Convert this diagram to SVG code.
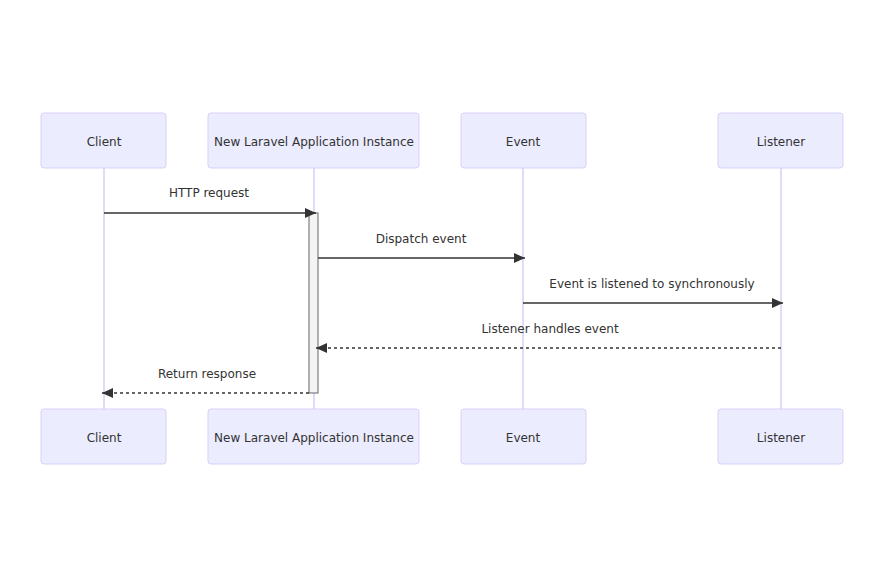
<svg xmlns="http://www.w3.org/2000/svg" width="885" height="579" viewBox="0 0 885 579">
<style>
.actor{fill:#ECECFF;stroke:#D9CFF5;stroke-width:1}
.lbl{font-family:"DejaVu Sans",Verdana,sans-serif;font-size:12px;fill:#333;text-anchor:middle;dominant-baseline:central}
.life{stroke:#D9CFF5;stroke-width:1.5}
.msg{stroke:#333;stroke-width:1.5;fill:none}
.dash{stroke-dasharray:3,3}
</style>
<defs>
<marker id="ah" viewBox="0 0 12 12" refX="11" refY="6" markerWidth="12" markerHeight="12" markerUnits="userSpaceOnUse" orient="auto">
<path d="M0,1 L11,6 L0,11 z" fill="#333"/>
</marker>
</defs>
<rect width="885" height="579" fill="#fff"/>
<g id="lifelines">
<line class="life" x1="104" y1="168" x2="104" y2="409"/>
<line class="life" x1="314" y1="168" x2="314" y2="409"/>
<line class="life" x1="523" y1="168" x2="523" y2="409"/>
<line class="life" x1="781" y1="168" x2="781" y2="409"/>
</g>
<g id="client-top"><rect class="actor" x="41" y="113" width="125" height="55" rx="3"/><text class="lbl" x="104" y="142">Client</text></g>
<g id="app-top"><rect class="actor" x="208" y="113" width="211" height="55" rx="3"/><text class="lbl" x="314" y="142">New Laravel Application Instance</text></g>
<g id="event-top"><rect class="actor" x="461" y="113" width="125" height="55" rx="3"/><text class="lbl" x="523" y="142">Event</text></g>
<g id="listener-top"><rect class="actor" x="718" y="113" width="125" height="55" rx="3"/><text class="lbl" x="781" y="142">Listener</text></g>
<g id="client-bottom"><rect class="actor" x="41" y="409" width="125" height="55" rx="3"/><text class="lbl" x="104" y="438">Client</text></g>
<g id="app-bottom"><rect class="actor" x="208" y="409" width="211" height="55" rx="3"/><text class="lbl" x="314" y="438">New Laravel Application Instance</text></g>
<g id="event-bottom"><rect class="actor" x="461" y="409" width="125" height="55" rx="3"/><text class="lbl" x="523" y="438">Event</text></g>
<g id="listener-bottom"><rect class="actor" x="718" y="409" width="125" height="55" rx="3"/><text class="lbl" x="781" y="438">Listener</text></g>
<g id="activation"><rect x="309" y="213" width="9" height="180" fill="#F4F4F4" stroke="#666" stroke-width="1"/></g>
<g id="connectors">
<line class="msg" x1="104" y1="213" x2="316" y2="213" marker-end="url(#ah)"/>
<text class="lbl" x="209" y="193">HTTP request</text>
<line class="msg" x1="318" y1="258" x2="525" y2="258" marker-end="url(#ah)"/>
<text class="lbl" x="421" y="239">Dispatch event</text>
<line class="msg" x1="523" y1="303" x2="783" y2="303" marker-end="url(#ah)"/>
<text class="lbl" x="652" y="284">Event is listened to synchronously</text>
<line class="msg dash" x1="781" y1="348" x2="316" y2="348" marker-end="url(#ah)"/>
<text class="lbl" x="550" y="329">Listener handles event</text>
<line class="msg dash" x1="309" y1="393" x2="102" y2="393" marker-end="url(#ah)"/>
<text class="lbl" x="207" y="374">Return response</text>
</g>
</svg>
